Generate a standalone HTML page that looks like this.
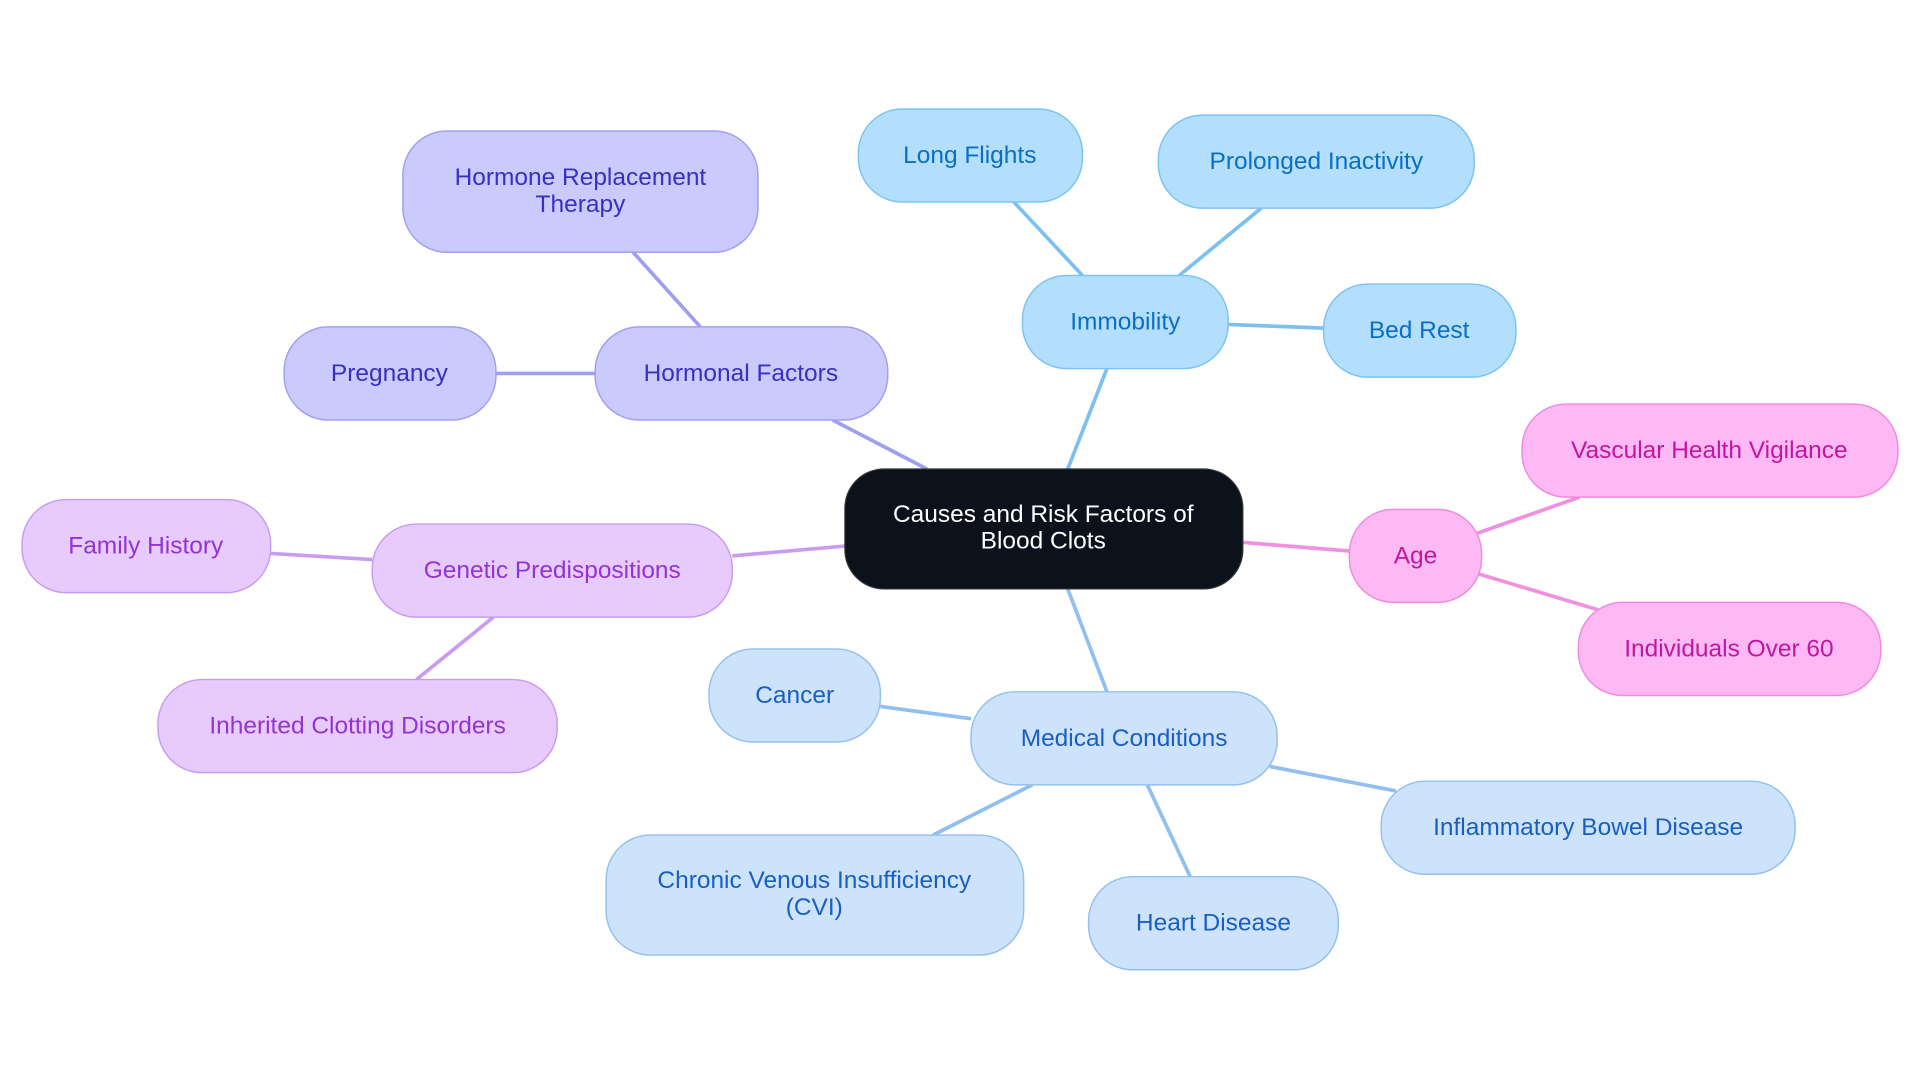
<!DOCTYPE html>
<html><head><meta charset="utf-8"><style>
html,body{margin:0;padding:0;background:#fff;width:1920px;height:1083px;overflow:hidden}
svg text{font-family:"Liberation Sans",sans-serif;font-size:20px;text-anchor:middle;dominant-baseline:central}
</style></head><body>
<svg width="1920" height="1083" viewBox="0 0 1568 884.5" xmlns="http://www.w3.org/2000/svg">
<g stroke-width="3" fill="none">
<g stroke="#7cc0f0">
<line x1="872" y1="383" x2="904" y2="301"/>
<line x1="884" y1="225" x2="828" y2="165"/>
<line x1="963" y1="225" x2="1030" y2="170"/>
<line x1="1003" y1="265" x2="1081" y2="268"/>
</g>
<g stroke="#a09ef0">
<line x1="757" y1="383" x2="680" y2="343"/>
<line x1="572" y1="267" x2="517" y2="206"/>
<line x1="486" y1="305" x2="405" y2="305"/>
</g>
<g stroke="#c99cf0">
<line x1="690" y1="446" x2="598" y2="454"/>
<line x1="304" y1="457" x2="221" y2="452"/>
<line x1="403" y1="504" x2="340" y2="555"/>
</g>
<g stroke="#f090e0">
<line x1="1015" y1="443" x2="1102" y2="450"/>
<line x1="1205" y1="436" x2="1290" y2="406"/>
<line x1="1205" y1="468" x2="1305" y2="498"/>
</g>
<g stroke="#90bff0">
<line x1="872" y1="481" x2="904" y2="565"/>
<line x1="793" y1="587" x2="719" y2="577"/>
<line x1="843" y1="641" x2="762" y2="682"/>
<line x1="937" y1="641" x2="972" y2="716"/>
<line x1="1037" y1="626" x2="1140" y2="646"/>
</g>
</g>
<rect x="690" y="383" width="325" height="98" rx="32" fill="#0c121c" stroke="#333"/>
<text x="852" y="420" fill="#fff">Causes and Risk Factors of</text>
<text x="852" y="442" fill="#fff">Blood Clots</text>

<g fill="#b3dffd" stroke="#7cc3f5" stroke-width="1.2">
<rect x="835" y="225" width="168" height="76" rx="36"/>
<rect x="701" y="89" width="183" height="76" rx="36"/>
<rect x="946" y="94" width="258" height="76" rx="36"/>
<rect x="1081" y="232" width="157" height="76" rx="36"/>
</g>
<g fill="#0a6fc0">
<text x="919" y="263">Immobility</text>
<text x="792" y="127">Long Flights</text>
<text x="1075" y="132">Prolonged Inactivity</text>
<text x="1159" y="270">Bed Rest</text>
</g>

<g fill="#cbcafd" stroke="#a29ff0" stroke-width="1.2">
<rect x="486" y="267" width="239" height="76" rx="36"/>
<rect x="329" y="107" width="290" height="99" rx="36"/>
<rect x="232" y="267" width="173" height="76" rx="36"/>
</g>
<g fill="#3730c0">
<text x="605" y="305">Hormonal Factors</text>
<text x="474" y="145">Hormone Replacement</text>
<text x="474" y="167">Therapy</text>
<text x="318" y="305">Pregnancy</text>
</g>

<g fill="#e8cbfd" stroke="#c79cf0" stroke-width="1.2">
<rect x="304" y="428" width="294" height="76" rx="36"/>
<rect x="18" y="408" width="203" height="76" rx="36"/>
<rect x="129" y="555" width="326" height="76" rx="36"/>
</g>
<g fill="#9333d0">
<text x="451" y="466">Genetic Predispositions</text>
<text x="119" y="446">Family History</text>
<text x="292" y="593">Inherited Clotting Disorders</text>
</g>

<g fill="#fdb9f3" stroke="#f08ae0" stroke-width="1.2">
<rect x="1102" y="416" width="108" height="76" rx="36"/>
<rect x="1243" y="330" width="307" height="76" rx="36"/>
<rect x="1289" y="492" width="247" height="76" rx="36"/>
</g>
<g fill="#c0179f">
<text x="1156" y="454">Age</text>
<text x="1396" y="368">Vascular Health Vigilance</text>
<text x="1412" y="530">Individuals Over 60</text>
</g>

<g fill="#cde3fb" stroke="#93c0ef" stroke-width="1.2">
<rect x="793" y="565" width="250" height="76" rx="36"/>
<rect x="579" y="530" width="140" height="76" rx="36"/>
<rect x="495" y="682" width="341" height="98" rx="36"/>
<rect x="889" y="716" width="204" height="76" rx="36"/>
<rect x="1128" y="638" width="338" height="76" rx="36"/>
</g>
<g fill="#1a5fc0">
<text x="918" y="603">Medical Conditions</text>
<text x="649" y="568">Cancer</text>
<text x="665" y="719">Chronic Venous Insufficiency</text>
<text x="665" y="741">(CVI)</text>
<text x="991" y="754">Heart Disease</text>
<text x="1297" y="676">Inflammatory Bowel Disease</text>
</g>
</svg>
</body></html>
